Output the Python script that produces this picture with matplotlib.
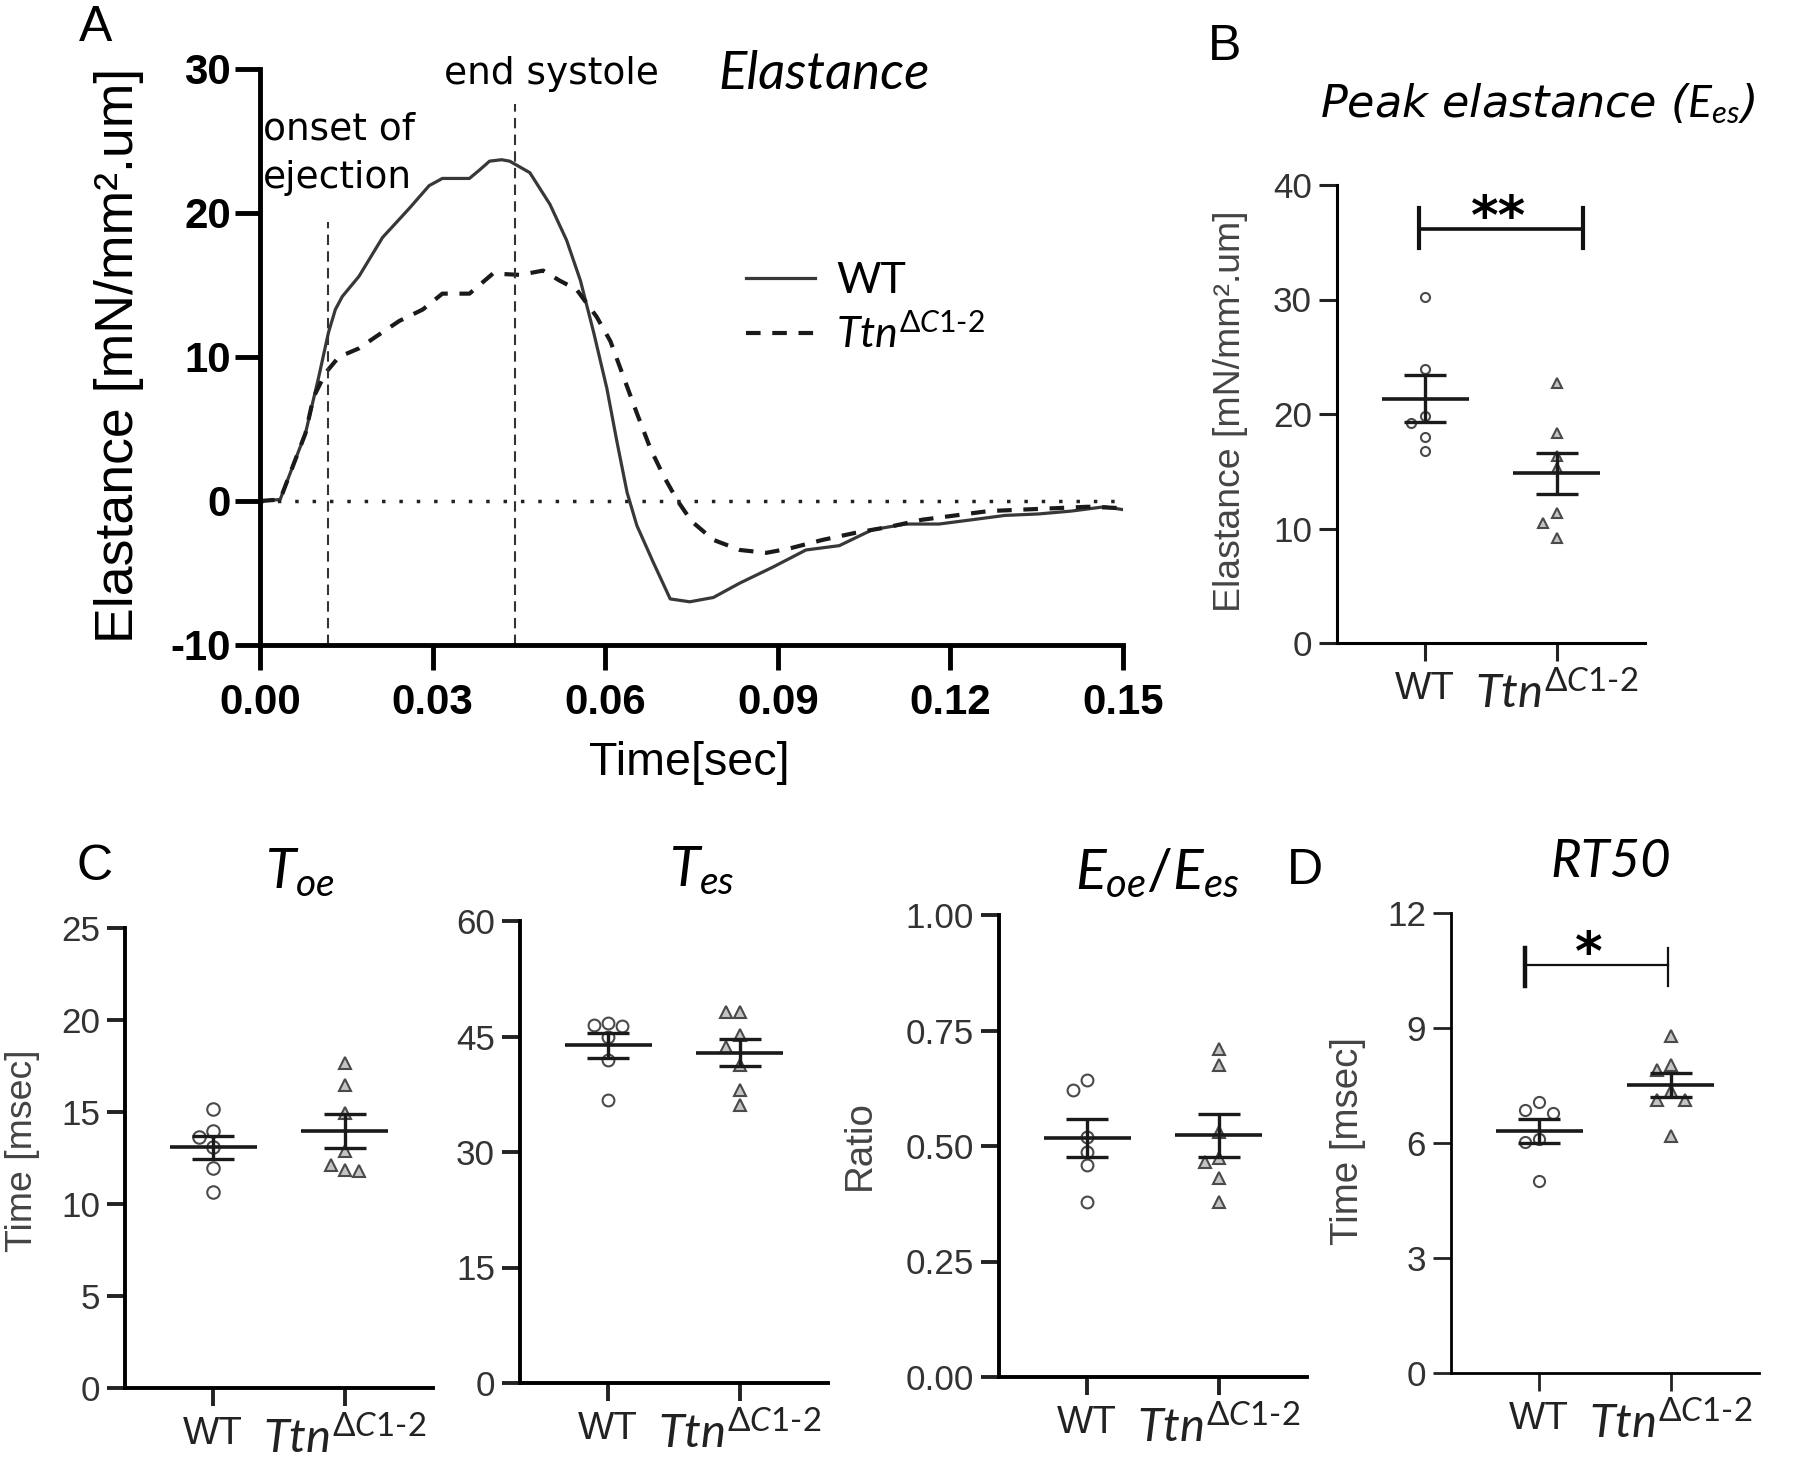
import numpy as np
import matplotlib.pyplot as plt
from matplotlib import font_manager

installed = {f.name for f in font_manager.fontManager.ttflist}
if 'Liberation Sans Narrow' in installed:
    NARROW, K = 'Liberation Sans Narrow', 1.0
else:
    NARROW, K = 'Liberation Sans', 0.84

plt.rcParams['font.family'] = ['Lato', 'DejaVu Sans']
plt.rcParams['axes.unicode_minus'] = False
plt.rcParams['mathtext.fontset'] = 'custom'
plt.rcParams['mathtext.it'] = 'Lato:italic'
plt.rcParams['mathtext.rm'] = 'Lato'
plt.rcParams['mathtext.bf'] = 'Lato:bold'

## Data ##
# A: elastance traces (time [s], elastance [mN/mm2.um])
t_wt = [0, .0035, .0055, .0079, .0102, .0119, .0131, .0143, .0172, .0213, .0259, .0294,
        .0317, .0364, .0382, .0399, .0420, .0434, .0469, .0504, .0533, .0557, .058, .0603,
        .062, .0638, .0655, .0684, .0713, .0747, .0788, .0834, .0891, .0949, .1007, .1064,
        .1122, .118, .1238, .1295, .1353, .141, .1468, .15]
e_wt = [0, .1, 2.2, 4.7, 8.6, 11.7, 13.3, 14.2, 15.6, 18.3, 20.3, 21.9,
        22.4, 22.4, 23.0, 23.6, 23.7, 23.6, 22.8, 20.6, 18.1, 15.3, 11.7, 7.8,
        4.2, .6, -1.7, -4.3, -6.8, -7.0, -6.7, -5.7, -4.6, -3.4, -3.1, -2.0,
        -1.6, -1.6, -1.3, -1.0, -.9, -.7, -.4, -.6]
t_ko = [0, .0035, .0055, .0079, .0093, .0114, .0137, .0172, .0201, .0242, .0283, .0317,
        .0364, .0405, .0452, .0492, .0521, .055, .0585, .0609, .0632, .0655, .0679, .0702,
        .0726, .0750, .0788, .0834, .088, .092, .0978, .1036, .1093, .1151, .1209, .1266,
        .1324, .1382, .1439, .15]
e_ko = [0, .1, 2.2, 4.7, 7.2, 8.9, 10.0, 10.6, 11.4, 12.5, 13.3, 14.4,
        14.4, 15.8, 15.7, 16.0, 15.3, 14.7, 12.8, 11.1, 8.6, 6.1, 3.6, 1.7,
        0.0, -1.4, -2.7, -3.4, -3.6, -3.3, -2.7, -2.2, -1.8, -1.3, -1.0, -.7,
        -.6, -.5, -.4, -.5]
t_onset, e_onset = 0.0118, 19.4
t_endsys, e_endsys = 0.0443, 27.6

groups = ['WT', '$Ttn^{\\mathit{\\Delta C1\u20102}}$']
# B: peak elastance
ees_wt = [30.25, 23.9, 19.8, 19.2, 18.0, 16.8]
ees_ko = [22.7, 18.3, 16.35, 15.3, 11.35, 10.5, 9.2]
# C: timing and ratio
toe_wt = [15.16, 13.95, 13.64, 13.1, 11.96, 10.63]
toe_ko = [17.66, 16.49, 14.95, 12.86, 12.14, 11.78, 11.87]
tes_wt = [46.75, 46.45, 46.3, 44.9, 42.0, 36.7]
tes_ko = [48.2, 48.2, 45.15, 43.6, 41.25, 38.0, 36.05]
ratio_wt = [0.622, 0.643, 0.519, 0.487, 0.458, 0.379]
ratio_ko = [0.709, 0.675, 0.531, 0.466, 0.473, 0.43, 0.379]
# D: RT50
rt50_wt = [6.85, 7.07, 6.78, 6.1, 6.02, 5.0]
rt50_ko = [8.78, 8.04, 7.91, 7.35, 7.13, 7.13, 6.19]

W, H = 1800, 1460
def fx(p): return p / W
def fy(p): return 1 - p / H
def box(l, t, r, b): return [fx(l), fy(b), (r - l) / W, (b - t) / H]

fig = plt.figure(figsize=(W / 100, H / 100), dpi=100)

## A ##
axA = fig.add_axes(box(260, 69, 1123, 645))
axA.plot(t_wt, e_wt, color='#383838', lw=2.3, label='WT')
axA.plot(t_ko, e_ko, color='#1a1a1a', lw=3, ls=(0, (3.5, 2.8)), label=groups[1])
axA.hlines(0, 0, 0.15, color='#222', lw=2.5, linestyles=(0, (1, 4)))
axA.vlines([t_onset, t_endsys], -10, [e_onset, e_endsys], color='#333', lw=1.5,
           linestyles=(0, (5, 3)))
axA.set_xlim(0, 0.15)
axA.set_ylim(-10, 30)
axA.set_xticks(np.arange(0, 0.151, 0.03))
axA.set_xticklabels(['%.2f' % v for v in np.arange(0, 0.151, 0.03)])
axA.set_yticks([-10, 0, 10, 20, 30])
for s in ['top', 'right']:
    axA.spines[s].set_visible(False)
for s in ['left', 'bottom']:
    axA.spines[s].set_linewidth(3.5)
axA.tick_params(axis='both', length=18, width=3.5)
axA.tick_params(axis='y', pad=3)
axA.tick_params(axis='x', pad=9)
for lab in axA.get_xticklabels() + axA.get_yticklabels():
    lab.set_fontfamily(NARROW)
    lab.set_fontweight('bold')
    lab.set_fontsize(36 * K)
leg = axA.legend(loc='upper left', bbox_to_anchor=(fx(746), fy(262)),
                 bbox_transform=fig.transFigure, frameon=False, borderpad=0,
                 borderaxespad=0, handlelength=1.6, handletextpad=0.5,
                 labelspacing=0.3, prop=dict(family='Lato', size=31))
fig.text(fx(119), fy(355), 'Elastance [mN/mm\u00b2.um]', rotation=90, ha='center',
         va='center', fontsize=46 * K, family=NARROW)
fig.text(fx(689), fy(763), 'Time[sec]', ha='center', va='center', fontsize=40 * K,
         family=NARROW)
fig.text(fx(551), fy(74), 'end systole', ha='center', va='center', fontsize=27,
         family='DejaVu Sans')
fig.text(fx(824), fy(74), 'Elastance', ha='center', va='center', fontsize=38,
         style='italic')
fig.text(fx(263), fy(154), 'onset of\nejection', ha='left', va='center', fontsize=27,
         family='DejaVu Sans', linespacing=1.45)


def swarm(ax, x0, vals, ms):
    # push overlapping dots sideways like a scatter dot plot
    pts = ax.transData.transform(np.column_stack([np.full(len(vals), x0), vals]))
    d = ms / 72 * 100 * 1.1
    step = 14
    off = np.zeros(len(vals))
    placed = []
    for k in np.argsort(vals)[::-1]:
        for j in [0, -1, 1, -2, 2, -3, 3]:
            x, y = pts[k, 0] + j * step, pts[k, 1]
            if all(np.hypot(x - a, y - b) >= d for a, b in placed):
                break
        placed.append((x, y))
        off[k] = j * step
    unit = ax.transData.transform([[1, 0]])[0, 0] - ax.transData.transform([[0, 0]])[0, 0]
    return off / unit


def strip(rect, wt, ko, ylim, yticks, fmt, ms, lw):
    ax = fig.add_axes(rect)
    ax.set_xlim(-0.67, 1.67)
    ax.set_ylim(*ylim)
    for i, (vals, mk, fc) in enumerate([(wt, 'o', 'white'), (ko, '^', '#c4c4c4')]):
        vals = np.array(vals)
        dx = swarm(ax, i, vals, ms)
        ax.plot(i + dx, vals, ls='none', marker=mk, ms=ms, mfc=fc, mec='#4a4a4a',
                mew=1.5, zorder=2)
        m = vals.mean()
        se = vals.std(ddof=1) / np.sqrt(len(vals))
        ax.hlines(m, i - 0.33, i + 0.33, color='#1a1a1a', lw=2.6, zorder=3)
        ax.errorbar(i, m, yerr=se, fmt='none', ecolor='#1a1a1a', elinewidth=2.4,
                    capsize=15, capthick=2.4, zorder=3)
    ax.set_yticks(yticks)
    ax.set_yticklabels([fmt % v for v in yticks])
    ax.set_xticks([0, 1])
    ax.set_xticklabels(groups)
    for s in ['top', 'right']:
        ax.spines[s].set_visible(False)
    for s in ['left', 'bottom']:
        ax.spines[s].set_linewidth(lw)
    ax.tick_params(axis='both', length=13, width=lw, colors='#222')
    ax.tick_params(axis='y', pad=5, labelsize=30 * K)
    ax.tick_params(axis='x', pad=7, labelsize=34)
    for lab in ax.get_yticklabels():
        lab.set_fontfamily(NARROW)
        lab.set_color('#333')
    xl = ax.get_xticklabels()
    xl[0].set_fontfamily(NARROW)
    xl[0].set_fontsize(33 * K)
    return ax

## B ##
axB = strip(box(1337, 185, 1645, 643), ees_wt, ees_ko, (0, 40), [0, 10, 20, 30, 40],
            '%d', 6.5, 2.2)
axB.plot([-0.045, 1.2], [36.2, 36.2], color='#111', lw=2.6)
axB.plot([-0.045, -0.045], [34.5, 38.0], color='#111', lw=3)
axB.plot([1.2, 1.2], [34.5, 38.0], color='#111', lw=3)
axB.text(0.56, 37.0, '**', ha='center', va='center', fontsize=38, fontweight='bold',
         family='DejaVu Sans')
fig.text(fx(1231), fy(411), 'Elastance [mN/mm\u00b2.um]', rotation=90, ha='center',
         va='center', fontsize=32 * K, family=NARROW, color='#444')
fig.text(fx(1538), fy(104), 'Peak elastance ($E_{es}$)', ha='center', va='center',
         fontsize=32, style='italic', family='DejaVu Sans')

## C ##
axC1 = strip(box(125, 928, 433, 1388), toe_wt, toe_ko, (0, 25), [0, 5, 10, 15, 20, 25],
             '%d', 9, 2.8)
axC2 = strip(box(520, 921, 828, 1383), tes_wt, tes_ko, (0, 60), [0, 15, 30, 45, 60],
             '%d', 8.5, 2.8)
axC3 = strip(box(999, 915, 1307, 1377), ratio_wt, ratio_ko, (0, 1),
             [0, 0.25, 0.5, 0.75, 1.0], '%.2f', 8.5, 2.8)
fig.text(fx(23), fy(1151), 'Time [msec]', rotation=90, ha='center', va='center',
         fontsize=32 * K, family=NARROW, color='#444')
fig.text(fx(860), fy(1145), 'Ratio', rotation=90, ha='center', va='center',
         fontsize=33 * K, family=NARROW, color='#444')
fig.text(fx(300), fy(873), '$T_{oe}$', ha='center', va='center', fontsize=40)
fig.text(fx(702), fy(871), '$T_{es}$', ha='center', va='center', fontsize=40)
fig.text(fx(1157), fy(873), '$E_{oe}/E_{es}$', ha='center', va='center', fontsize=41)

## D ##
axD = strip(box(1451, 913, 1759, 1373), rt50_wt, rt50_ko, (0, 12), [0, 3, 6, 9, 12],
            '%d', 8, 2.0)
axD.plot([-0.11, 0.98], [10.64, 10.64], color='#111', lw=1.6)
axD.plot([-0.11, -0.11], [10.1, 11.1], color='#111', lw=3.2)
axD.plot([0.98, 0.98], [10.1, 11.1], color='#111', lw=1.6)
axD.text(0.38, 10.9, '*', ha='center', va='center', fontsize=38, fontweight='bold',
         family='DejaVu Sans')
fig.text(fx(1348), fy(1141), 'Time [msec]', rotation=90, ha='center', va='center',
         fontsize=33 * K, family=NARROW, color='#444')
fig.text(fx(1611), fy(862), 'RT50', ha='center', va='center', fontsize=38,
         style='italic')

## panel letters ##
for lab, x, y in [('A', 96, 28), ('B', 1225, 47), ('C', 95, 867), ('D', 1305, 871)]:
    fig.text(fx(x), fy(y), lab, ha='center', va='center', fontsize=36,
             family='Liberation Sans')

fig.savefig('out.png', dpi=100)
